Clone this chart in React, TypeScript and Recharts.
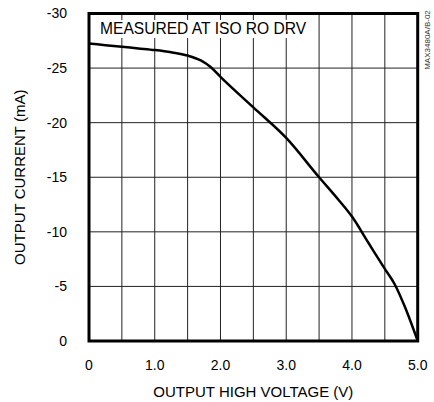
import React from 'react';
import { LineChart, Line, XAxis, YAxis, CartesianGrid, Label, ReferenceArea } from 'recharts';

const voltage = [0, 0.25, 0.5, 0.75, 1.0, 1.25, 1.5, 1.7, 1.85, 2.0, 2.5, 3.0, 3.5, 3.8, 4.0, 4.25, 4.5, 4.65, 4.8, 5.0];
const current = [-27.25, -27.1, -26.95, -26.8, -26.65, -26.45, -26.15, -25.7, -25.1, -24.2, -21.4, -18.6, -15.0, -12.9, -11.4, -9.0, -6.6, -5.2, -3.2, 0];
const xTicks = [0, 1, 2, 3, 4, 5];
const xGrid = [0, 0.5, 1, 1.5, 2, 2.5, 3, 3.5, 4, 4.5, 5];
const yTicks = [0, -5, -10, -15, -20, -25, -30];

const data = voltage.map((v, i) => ({ v, i: current[i] }));

const FONT = '"Liberation Sans", Arial, sans-serif';

export default function App() {
  return (
    <div style={{ position: 'absolute', left: 0, top: 0, width: 434, height: 402, background: '#fff' }}>
      <LineChart width={434} height={402} data={data} margin={{ top: 13.5, right: 16.3, bottom: 11, left: 20 }}>
        <CartesianGrid stroke="#222" strokeWidth={1} horizontal={true} vertical={true}
          verticalValues={xGrid} horizontalValues={yTicks} />
        <XAxis dataKey="v" type="number" domain={[0, 5]} ticks={xTicks} height={50}
          tickFormatter={(t: number) => (t === 0 ? '0' : t.toFixed(1))}
          tickLine={false} tickSize={0} tickMargin={19} axisLine={false}
          tick={{ fill: '#000', fontSize: 14, fontFamily: FONT }} interval={0}>
          <Label value="OUTPUT HIGH VOLTAGE (V)" position="insideBottom" offset={-6}
            style={{ fill: '#000', fontSize: 15, fontFamily: FONT }} />
        </XAxis>
        <YAxis type="number" domain={[-30, 0]} reversed ticks={yTicks} width={69}
          tickLine={false} tickSize={0} tickMargin={22} axisLine={false} interval={0}
          tick={{ fill: '#000', fontSize: 14, fontFamily: FONT }}>
          <Label value="OUTPUT CURRENT (mA)" position="insideLeft" angle={-90} offset={0}
            style={{ fill: '#000', fontSize: 15, fontFamily: FONT, textAnchor: 'middle' }} />
        </YAxis>
        <ReferenceArea x1={0} x2={5} y1={-30} y2={0} fill="none" fillOpacity={0} stroke="#000" strokeWidth={3} ifOverflow="visible" />
        <Line dataKey="i" type="monotone" stroke="#000" strokeWidth={2.5} dot={false} isAnimationActive={false} />
      </LineChart>
      <div style={{ position: 'absolute', left: 97, top: 20, padding: '0 3px', background: '#fff', fontFamily: FONT, fontSize: 15.6, lineHeight: '18px', color: '#000', whiteSpace: 'nowrap' }}>
        MEASURED AT ISO RO DRV
      </div>
      <svg style={{ position: 'absolute', left: 0, top: 0 }} width={434} height={402} pointerEvents="none">
        <text x={428} y={40} transform="rotate(-90 428 40)" textAnchor="middle" dominantBaseline="middle"
          style={{ fontFamily: FONT, fontSize: 8, fill: '#333' }}>MAX3480A/B-02</text>
      </svg>
    </div>
  );
}
